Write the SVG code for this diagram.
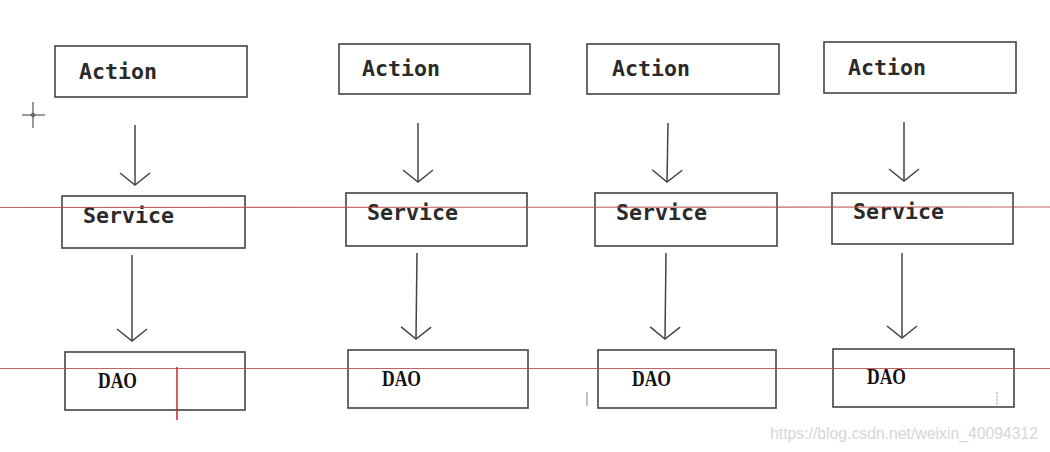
<svg xmlns="http://www.w3.org/2000/svg" width="1050" height="452" viewBox="0 0 1050 452">
<style>
.box{fill:#fff;stroke:#444;stroke-width:1.6}
.lbl{font-family:"DejaVu Sans Mono","Liberation Mono",monospace;font-weight:bold;font-size:21.5px;fill:#2a2a2a}
.dao{font-family:"Liberation Serif",serif;font-weight:bold;font-size:24px;fill:#111}
.conn{stroke:#444;stroke-width:1.5;fill:none;marker-end:url(#v)}
.red{stroke:#b84a4a;stroke-width:1.2;opacity:0.85}
</style>
<defs>
<marker id="v" markerUnits="userSpaceOnUse" viewBox="-16 -16 32 32" markerWidth="32" markerHeight="32" refX="0" refY="0" orient="auto" overflow="visible">
<path d="M-12,-15 L0,0 L-12,15" fill="none" stroke="#444" stroke-width="1.5"/>
</marker>
</defs>
<rect width="1050" height="452" fill="#fff"/>

<g id="action1"><rect class="box" x="55" y="46" width="192" height="51"/><text class="lbl" x="79" y="79" textLength="78" lengthAdjust="spacingAndGlyphs">Action</text></g>
<g id="service1"><rect class="box" x="62" y="196" width="183" height="52"/><text class="lbl" x="83" y="223" textLength="91" lengthAdjust="spacingAndGlyphs">Service</text></g>
<g id="dao1"><rect class="box" x="65" y="352" width="180" height="58"/><text class="dao" x="98" y="388" textLength="39" lengthAdjust="spacingAndGlyphs">DAO</text></g>

<g id="action2"><rect class="box" x="339" y="44" width="191" height="50"/><text class="lbl" x="362" y="76" textLength="78" lengthAdjust="spacingAndGlyphs">Action</text></g>
<g id="service2"><rect class="box" x="346" y="193" width="181" height="53"/><text class="lbl" x="367" y="220" textLength="91" lengthAdjust="spacingAndGlyphs">Service</text></g>
<g id="dao2"><rect class="box" x="348" y="350" width="180" height="58"/><text class="dao" x="382" y="386" textLength="39" lengthAdjust="spacingAndGlyphs">DAO</text></g>

<g id="action3"><rect class="box" x="587" y="44" width="192" height="50"/><text class="lbl" x="612" y="76" textLength="78" lengthAdjust="spacingAndGlyphs">Action</text></g>
<g id="service3"><rect class="box" x="595" y="193" width="182" height="53"/><text class="lbl" x="616" y="220" textLength="91" lengthAdjust="spacingAndGlyphs">Service</text></g>
<g id="dao3"><rect class="box" x="598" y="350" width="178" height="58"/><text class="dao" x="632" y="386" textLength="39" lengthAdjust="spacingAndGlyphs">DAO</text></g>

<g id="action4"><rect class="box" x="824" y="42" width="192" height="51"/><text class="lbl" x="848" y="75" textLength="78" lengthAdjust="spacingAndGlyphs">Action</text></g>
<g id="service4"><rect class="box" x="832" y="193" width="181" height="51"/><text class="lbl" x="853" y="219" textLength="91" lengthAdjust="spacingAndGlyphs">Service</text></g>
<g id="dao4"><rect class="box" x="833" y="349" width="181" height="58"/><text class="dao" x="867" y="384" textLength="39" lengthAdjust="spacingAndGlyphs">DAO</text></g>

<g id="connectors">
<line class="conn" x1="135" y1="125" x2="135" y2="185"/>
<line class="conn" x1="132" y1="255" x2="132" y2="341"/>
<line class="conn" x1="418" y1="123" x2="418" y2="182"/>
<line class="conn" x1="417" y1="253" x2="416" y2="339"/>
<line class="conn" x1="668" y1="123" x2="667" y2="182"/>
<line class="conn" x1="666" y1="253" x2="665" y2="339"/>
<line class="conn" x1="904" y1="122" x2="904" y2="181"/>
<line class="conn" x1="902" y1="253" x2="902" y2="338"/>
</g>

<g id="marks">
<line class="red" x1="0" y1="207.5" x2="1050" y2="207"/>
<line class="red" x1="0" y1="368.5" x2="1050" y2="368.5"/>
<line x1="177" y1="367" x2="177" y2="420" stroke="#d0202a" stroke-width="1.5"/>
<line x1="22" y1="115" x2="45" y2="115" stroke="#555" stroke-width="1.2"/>
<line x1="33" y1="102" x2="33" y2="128" stroke="#555" stroke-width="1.2"/>
<circle cx="33" cy="115" r="1.8" fill="none" stroke="#555" stroke-width="1"/>
<line x1="587" y1="392" x2="587" y2="406" stroke="#888" stroke-width="1"/>
<line x1="997" y1="392" x2="997" y2="405" stroke="#999" stroke-width="1" stroke-dasharray="2,1.5"/>
</g>
<text x="770" y="439" font-family="Liberation Sans, Arial, sans-serif" font-size="16" fill="#d6d6d6" textLength="268" lengthAdjust="spacingAndGlyphs">https://blog.csdn.net/weixin_40094312</text>
</svg>
